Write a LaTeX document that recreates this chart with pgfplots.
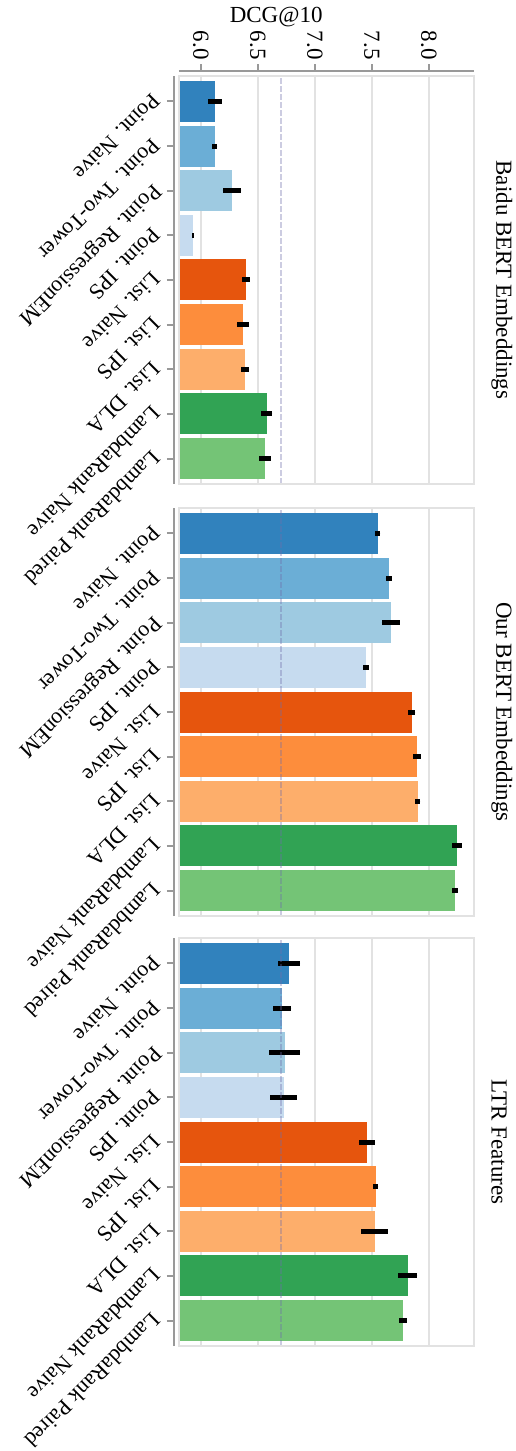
\documentclass[border=0pt]{standalone}
\usepackage{fontspec}
\setmainfont{Liberation Serif}
\usepackage{pgfplots}
\pgfplotsset{compat=1.18}
\definecolor{c1}{HTML}{3182BD}
\definecolor{c2}{HTML}{6BAED6}
\definecolor{c3}{HTML}{9ECAE1}
\definecolor{c4}{HTML}{C6DBEF}
\definecolor{c5}{HTML}{E6550D}
\definecolor{c6}{HTML}{FD8D3C}
\definecolor{c7}{HTML}{FDAE6B}
\definecolor{c8}{HTML}{31A354}
\definecolor{c9}{HTML}{74C476}
\definecolor{framec}{HTML}{E2E2E2}
\definecolor{spine}{HTML}{999999}
\definecolor{refl}{HTML}{6E6EAA}
\newcommand{\lfont}{\fontsize{11.5}{13.5}\selectfont}
\newcommand{\cfont}{\fontsize{11}{13}\selectfont}
\pgfplotsset{
  bar/.style={xbar, bar width=20.5pt, bar shift=0pt, fill=#1, draw=none,
    error bars/.cd, x dir=both, x explicit,
    error bar style={line width=2.5pt, black}, error mark=none},
  panel/.style={
    scale only axis, width=147.5pt, height=204pt,
    xmin=5.807, xmax=8.397, ymin=-8.57, ymax=0.57,
    axis y line*=left, axis y line shift=2.5pt,
    axis x line*=top,
    y axis line style={spine, line width=1pt},
    ytick={0,-1,-2,-3,-4,-5,-6,-7,-8},
    yticklabels={Point. Naive, Point. Two-Tower, Point. RegressionEM, Point. IPS, List. Naive, List. IPS, List. DLA, LambdaRank Naive, LambdaRank Paired},
    yticklabel style={rotate=225, anchor=west, font=\cfont, inner sep=0pt, yshift=-5pt, xshift=2pt},
    ytick style={spine, line width=1pt},
    tick align=outside, major tick length=3.5pt,
    xtick={6,6.5,7,7.5,8},
    xmajorgrids=true,
    grid style={framec, line width=0.75pt},
    clip=false,
  },
  toppanel/.style={panel,
    axis x line shift=2.5pt,
    x axis line style={spine, line width=1pt},
    xtick style={spine, line width=1pt},
    xticklabel={\pgfmathprintnumber[fixed,fixed zerofill,precision=1]{\tick}},
    /pgf/number format/assume math mode=true,
    xticklabel style={rotate=-90, anchor=east, font=\lfont, inner sep=2pt},
  },
  lowpanel/.style={panel,
    x axis line style={draw=none},
    xtick style={draw=none},
    xticklabels={},
  },
}
\newcommand{\decor}[1]{%
  \addplot[refl, opacity=0.35, line width=1.2pt, dash pattern=on 3pt off 1pt] coordinates {(6.70,-8.57) (6.70,0.57)};
  \draw[framec, line width=0.75pt] (rel axis cs:0,0) rectangle (rel axis cs:1,1);
  \node[rotate=-90, anchor=south, font=\lfont, inner sep=0pt] at ([xshift=8.5pt]rel axis cs:1,0.5) {#1};
}
\begin{document}
\begin{tikzpicture}
\begin{axis}[toppanel, at={(0,0)}, anchor=north west]
\addplot[bar=c1] coordinates {(6.123,0) +- (0.060,0)};
\addplot[bar=c2] coordinates {(6.123,-1) +- (0.022,0)};
\addplot[bar=c3] coordinates {(6.272,-2) +- (0.082,0)};
\addplot[bar=c4] coordinates {(5.930,-3) +- (0.009,0)};
\addplot[bar=c5] coordinates {(6.395,-4) +- (0.034,0)};
\addplot[bar=c6] coordinates {(6.368,-5) +- (0.054,0)};
\addplot[bar=c7] coordinates {(6.386,-6) +- (0.036,0)};
\addplot[bar=c8] coordinates {(6.579,-7) +- (0.048,0)};
\addplot[bar=c9] coordinates {(6.561,-8) +- (0.050,0)};
\decor{Baidu BERT Embeddings}
\node[font=\lfont] at ([yshift=29.5pt]axis cs:6.66,0.57) {DCG@10};
\end{axis}
\begin{axis}[lowpanel, at={(0,-216pt)}, anchor=north west]
\addplot[bar=c1] coordinates {(7.553,0) +- (0.022,0)};
\addplot[bar=c2] coordinates {(7.649,-1) +- (0.028,0)};
\addplot[bar=c3] coordinates {(7.667,-2) +- (0.080,0)};
\addplot[bar=c4] coordinates {(7.447,-3) +- (0.025,0)};
\addplot[bar=c5] coordinates {(7.851,-4) +- (0.032,0)};
\addplot[bar=c6] coordinates {(7.895,-5) +- (0.034,0)};
\addplot[bar=c7] coordinates {(7.904,-6) +- (0.022,0)};
\addplot[bar=c8] coordinates {(8.246,-7) +- (0.044,0)};
\addplot[bar=c9] coordinates {(8.228,-8) +- (0.026,0)};
\decor{Our BERT Embeddings}
\end{axis}
\begin{axis}[lowpanel, at={(0,-431pt)}, anchor=north west]
\addplot[bar=c1] coordinates {(6.772,0) +- (0.098,0)};
\addplot[bar=c2] coordinates {(6.711,-1) +- (0.083,0)};
\addplot[bar=c3] coordinates {(6.734,-2) +- (0.136,0)};
\addplot[bar=c4] coordinates {(6.725,-3) +- (0.115,0)};
\addplot[bar=c5] coordinates {(7.456,-4) +- (0.073,0)};
\addplot[bar=c6] coordinates {(7.535,-5) +- (0.022,0)};
\addplot[bar=c7] coordinates {(7.526,-6) +- (0.117,0)};
\addplot[bar=c8] coordinates {(7.816,-7) +- (0.083,0)};
\addplot[bar=c9] coordinates {(7.772,-8) +- (0.035,0)};
\decor{LTR Features}
\end{axis}
\pgfresetboundingbox
\path[use as bounding box] (-89.5pt,38pt) rectangle (168pt,-687.5pt);
\end{tikzpicture}
\end{document}
